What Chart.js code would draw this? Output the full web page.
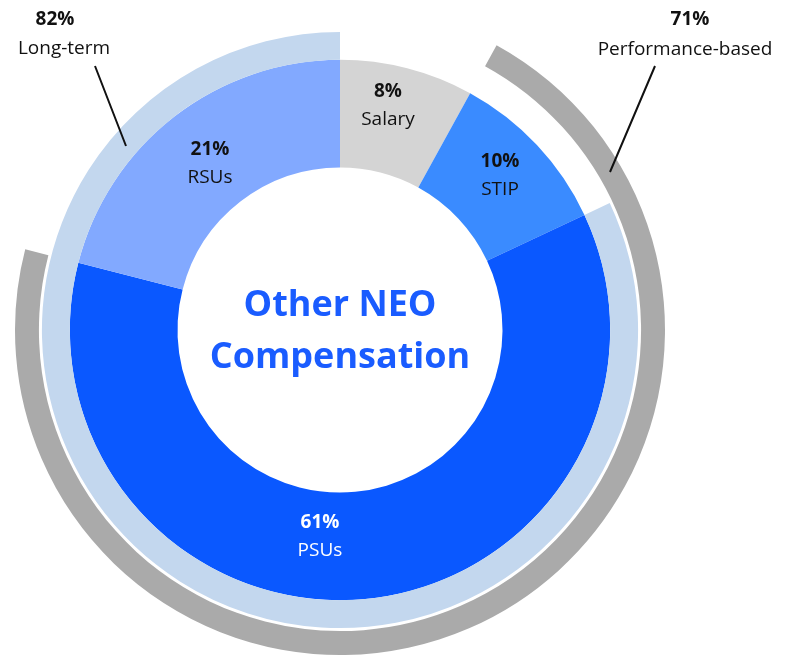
<!DOCTYPE html>
<html>
<head>
<meta charset="utf-8">
<script src="https://cdn.jsdelivr.net/npm/chart.js@4"></script>
<style>
  html, body { margin: 0; padding: 0; background: #fff; }
  #wrap { width: 808px; height: 670px; position: relative; }
</style>
</head>
<body>
<div id="wrap"><canvas id="comp"></canvas></div>
<script>
// inner ring: pay components (clockwise from top)
const components = ['Salary', 'STIP', 'PSUs', 'RSUs'];
const componentPct = [8, 10, 61, 21];
const componentColors = ['#d4d4d4', '#3a8bff', '#0a58ff', '#82a9ff'];

// middle ring: long-term share (PSUs + RSUs)
const longTermSplit = [18, 82];
// outer ring: performance-based share (STIP + PSUs)
const perfSplit = [8, 71, 21];

const labelPos = [[388, 92], [500, 162], [320, 523], [210, 150]];

const labelsPlugin = {
  id: 'labels',
  afterDraw(chart) {
    const ctx = chart.ctx;
    ctx.save();
    ctx.textAlign = 'center';
    ctx.textBaseline = 'middle';
    const txt = (t, x, y, font, color) => { ctx.font = font; ctx.fillStyle = color; ctx.fillText(t, x, y); };
    components.forEach((c, i) => {
      const [x, y] = labelPos[i];
      const col = c === 'PSUs' ? '#fff' : '#111';
      txt(componentPct[i] + '%', x, y, 'bold 19px "Open Sans"', col);
      txt(c, x, y + 28, '19px "Open Sans"', col);
    });
    // ring labels
    txt(longTermSplit[1] + '%', 55, 20, 'bold 19px "Open Sans"', '#111');
    txt('Long-term', 64, 49, '19px "Open Sans"', '#111');
    txt(perfSplit[1] + '%', 690, 20, 'bold 19px "Open Sans"', '#111');
    txt('Performance-based', 685, 50, '19px "Open Sans"', '#111');
    ctx.strokeStyle = '#111';
    ctx.lineWidth = 2;
    ctx.beginPath();
    ctx.moveTo(95, 66); ctx.lineTo(126, 146);
    ctx.moveTo(655, 66); ctx.lineTo(610, 172);
    ctx.stroke();
    // centre title
    txt('Other NEO', 340, 306, 'bold 36px "Open Sans"', '#1a5cff');
    txt('Compensation', 340, 358, 'bold 36px "Open Sans"', '#1a5cff');
    ctx.restore();
  }
};

new Chart(document.getElementById('comp'), {
  type: 'doughnut',
  data: {
    labels: components,
    datasets: [
      { data: perfSplit, backgroundColor: ['rgba(0,0,0,0)', '#aaaaaa', 'rgba(0,0,0,0)'], borderWidth: 0, weight: 24 },
      { data: [100], backgroundColor: ['rgba(0,0,0,0)'], borderWidth: 0, weight: 3 },
      { data: longTermSplit, backgroundColor: ['rgba(0,0,0,0)', '#c3d7ee'], borderWidth: 0, weight: 28 },
      { data: componentPct, backgroundColor: componentColors, borderWidth: 0, weight: 108 }
    ]
  },
  options: {
    responsive: true,
    maintainAspectRatio: false,
    animation: false,
    cutout: '50%',
    layout: { padding: { left: 15, top: 5, right: 143, bottom: 15 } },
    plugins: { legend: { display: false }, tooltip: { enabled: false } }
  },
  plugins: [labelsPlugin]
});
</script>
</body>
</html>
